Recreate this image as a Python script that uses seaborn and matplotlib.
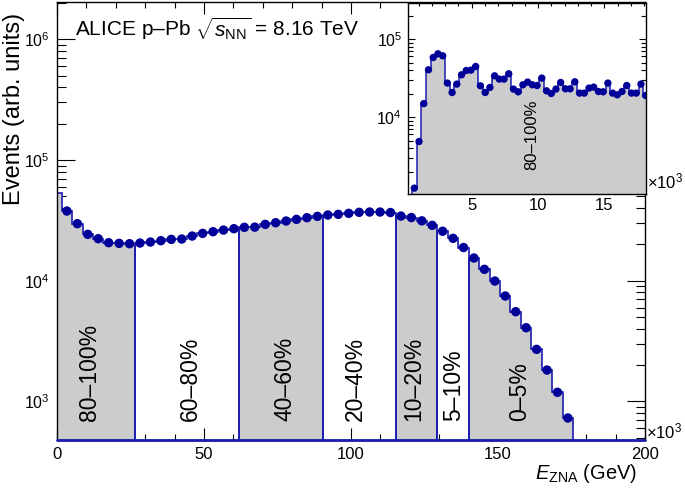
import numpy as np
import matplotlib
matplotlib.use("Agg")
import matplotlib.pyplot as plt
from matplotlib.ticker import MultipleLocator, LogLocator, NullFormatter
import seaborn as sns

sns.set_style("ticks")
plt.rcParams["font.family"] = ["Liberation Sans", "DejaVu Sans"]
plt.rcParams["mathtext.fontset"] = "custom"
plt.rcParams["mathtext.rm"] = "Liberation Sans"
plt.rcParams["mathtext.it"] = "Liberation Sans:italic"
plt.rcParams["mathtext.bf"] = "Liberation Sans:bold"
plt.rcParams["text.color"] = "black"
plt.rcParams["axes.labelcolor"] = "black"
plt.rcParams["xtick.color"] = "black"
plt.rcParams["ytick.color"] = "black"

# main ZNA energy spectrum (GeV), one partial bin at 0 then regular bins
first_bin_counts = 53600
bin_start = 1.6
bin_width = 3.55
counts = [37800, 29700, 24230, 22300, 20660, 20400, 20270, 20530, 20920, 21470,
          22020, 22160, 23460, 24690, 25480, 26300, 26990, 27690, 27800, 29310,
          30260, 31240, 32250, 33290, 34150, 35030, 35500, 36180, 36880, 37090,
          37090, 36730, 34360, 33390, 31360, 28770, 25710, 22460, 18840, 15420,
          12430, 9940, 7470, 5540, 4080, 2700, 1820, 1190, 729]

# centrality classes: bin index bounds (including the partial first bin)
class_labels = ["80–100%", "60–80%", "40–60%", "20–40%", "10–20%", "5–10%", "0–5%"]
class_bounds = [0, 8, 18, 26, 33, 37, 40, 50]
class_shaded = [True, False, True, False, True, False, True]
class_label_x = [10.9, 45.5, 77.5, 101.4, 121.2, 135.0, 157.5]

# inset: zoom on the most peripheral class (x in units of 10^3)
inset_start = 0.492
inset_width = 0.356
inset_counts = [1230, 4870, 14900, 40400, 58100, 64800, 61100, 27300, 20670, 26500,
                34860, 39580, 40000, 44540, 25190, 20670, 23960, 33840, 30700, 30700,
                35910, 22860, 21100, 25950, 28100, 25950, 25420, 31620, 21740, 20070,
                22860, 27770, 23060, 23060, 28350, 20310, 20310, 23540, 24240, 21290,
                21100, 27300, 20310, 19320, 21290, 25420, 20310, 20310, 26500, 18920]

gray = "#cccccc"
line_blue = "#1c1cb0"
mark_blue = "#000099"

edges = np.concatenate([[0.0], bin_start + bin_width * np.arange(len(counts) + 1)])
all_counts = np.array([first_bin_counts] + counts, dtype=float)
centers = bin_start + bin_width * (np.arange(len(counts)) + 0.5)

fig = plt.figure(figsize=(6.85, 4.88), dpi=100)
ax = fig.add_axes([57 / 685, 1 - 440 / 488, 588 / 685, 438 / 488])
ymin, ymax = 479, 2.04e6
ax.set_yscale("log")
ax.set_xlim(0, 200)
ax.set_ylim(ymin, ymax)

for i, lab in enumerate(class_labels):
    s, e = class_bounds[i], class_bounds[i + 1]
    if class_shaded[i]:
        ax.stairs(all_counts[s:e], edges[s:e + 1], baseline=ymin, fill=True,
                  color=gray, lw=0, zorder=1)
    ax.stairs(all_counts[s:e], edges[s:e + 1], baseline=ymin, color=line_blue,
              lw=1.2, zorder=2)
    ax.text(class_label_x[i], 689, lab, rotation=90, ha="center", va="bottom",
            fontsize=16.5, color="black", zorder=3)
ax.plot([0, 200], [ymin, ymin], color=line_blue, lw=2, clip_on=False, zorder=5)

sns.scatterplot(x=centers, y=counts, ax=ax, color=mark_blue, s=46,
                edgecolor="none", zorder=4, legend=False)

ax.xaxis.set_major_locator(MultipleLocator(50))
ax.xaxis.set_minor_locator(MultipleLocator(10))
ax.yaxis.set_major_locator(LogLocator(base=10, numticks=10))
ax.yaxis.set_minor_locator(LogLocator(base=10, subs=np.arange(2, 10), numticks=20))
ax.yaxis.set_minor_formatter(NullFormatter())
ax.tick_params(which="both", direction="in", top=True, right=True, color="black",
               labelcolor="black", width=0.8)
ax.tick_params(axis="x", which="major", length=8.6, labelsize=12, pad=5)
ax.tick_params(axis="x", which="minor", length=4.3)
ax.tick_params(axis="y", which="major", length=13, labelsize=11.5, pad=5)
ax.tick_params(axis="y", which="minor", length=6.5)
for sp in ax.spines.values():
    sp.set_color("black")
    sp.set_linewidth(1.0)

fig.text(75 / 685, 1 - 36 / 488, r"ALICE p–Pb $\sqrt{s_{\rm NN}}$ = 8.16 TeV",
         fontsize=15, ha="left", va="baseline")
fig.text(14 / 685, 1 - 13 / 488, "Events (arb. units)", rotation=90,
         ha="center", va="top", fontsize=17)
fig.text(637 / 685, 1 - 479 / 488, r"$E_{\rm ZNA}$ (GeV)", ha="right",
         va="baseline", fontsize=14.5)
fig.text(646 / 685, 1 - 438 / 488, r"$\times10^{3}$", ha="left", va="baseline", fontsize=12)

# inset
axi = fig.add_axes([407.7 / 685, 1 - 193.5 / 488, 238.3 / 685, 190.5 / 488])
iymin = 1050
axi.set_yscale("log")
axi.set_xlim(0.17, 18.14)
axi.set_ylim(iymin, 2.9e5)
in_edges = inset_start + inset_width * np.arange(len(inset_counts) + 1)
in_centers = inset_start + inset_width * (np.arange(len(inset_counts)) + 0.5)
axi.stairs(inset_counts, in_edges, baseline=iymin, fill=True, color=gray, lw=0, zorder=1)
axi.stairs(inset_counts, in_edges, baseline=iymin, color=line_blue, lw=1.1, zorder=2)
sns.scatterplot(x=in_centers, y=inset_counts, ax=axi, color=mark_blue, s=28,
                edgecolor="none", zorder=4, legend=False)
axi.text(9.52, 2110, "80–100%", rotation=90, ha="center", va="bottom", fontsize=12,
         color="black", zorder=3)

axi.xaxis.set_major_locator(MultipleLocator(5))
axi.xaxis.set_minor_locator(MultipleLocator(1))
axi.yaxis.set_major_locator(LogLocator(base=10, numticks=10))
axi.yaxis.set_minor_locator(LogLocator(base=10, subs=np.arange(2, 10), numticks=20))
axi.yaxis.set_minor_formatter(NullFormatter())
axi.tick_params(which="both", direction="in", top=True, right=True, color="black",
                labelcolor="black", width=0.8)
axi.tick_params(axis="x", which="major", length=3.6, labelsize=12, pad=3)
axi.tick_params(axis="x", which="minor", length=2.2)
axi.tick_params(axis="y", which="major", length=5, labelsize=11.5, pad=4)
axi.tick_params(axis="y", which="minor", length=3.4)
for sp in axi.spines.values():
    sp.set_color("black")
    sp.set_linewidth(1.0)
fig.text(647 / 685, 1 - 188 / 488, r"$\times10^{3}$", ha="left", va="baseline", fontsize=12)

fig.savefig("out.png", dpi=100)
